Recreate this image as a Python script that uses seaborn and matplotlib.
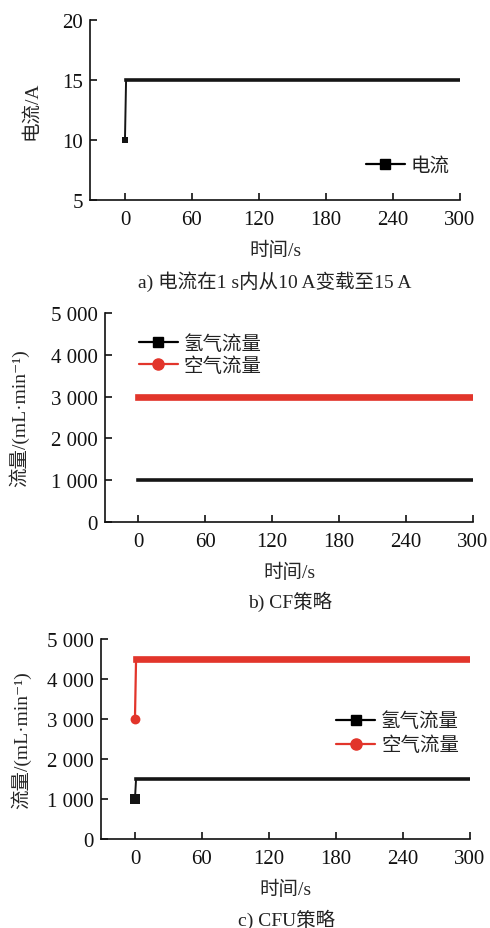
import numpy as np
import pandas as pd
import matplotlib
matplotlib.use("Agg")
import matplotlib.pyplot as plt
from matplotlib.lines import Line2D
import seaborn as sns

# ---- data -------------------------------------------------------------
# (a) load current step: 10 A -> 15 A within 1 s
time_a = [0, 1, 300]
current_a = [10, 15, 15]

# (b) CF strategy: constant flows
time_b = [0, 300]
h2_cf = [1000, 1000]
air_cf = [3000, 3000]

# (c) CFU strategy: flows stepped up together with the load
time_c = [0, 1, 300]
h2_cfu = [1000, 1500, 1500]
air_cfu = [3000, 4500, 4500]

x_ticks = [0, 60, 120, 180, 240, 300]
ticks_a = [5, 10, 15, 20]
ticks_flow = [0, 1000, 2000, 3000, 4000, 5000]
flow_labels = ["0", "1 000", "2 000", "3 000", "4 000", "5 000"]

captions = ["a) 电流在1 s内从10 A变载至15 A", "b) CF策略", "c) CFU策略"]
xlabel = "时间/s"
ylabel_a = "电流/A"
ylabel_flow = "流量/(mL·min⁻¹)"
legend_a = ["电流"]
legend_flow = ["氢气流量", "空气流量"]

BLACK = "#151515"
RED = "#e2352b"

# ---- style ------------------------------------------------------------
sns.set_style("ticks")
plt.rcParams["font.family"] = ["Liberation Serif", "Noto Sans CJK SC", "DejaVu Sans"]
plt.rcParams["font.size"] = 14
plt.rcParams["axes.linewidth"] = 1.2
plt.rcParams["axes.edgecolor"] = "#111111"
plt.rcParams["text.color"] = "#222222"
plt.rcParams["xtick.color"] = "#111111"
plt.rcParams["ytick.color"] = "#111111"

W, H = 490, 929
fig = plt.figure(figsize=(W / 100, H / 100), dpi=100)


def axes_px(left, right, top, bottom):
    return fig.add_axes([left / W, 1 - bottom / H, (right - left) / W, (bottom - top) / H])


def style_axes(ax, xlim, ylim, yticks, ylabels=None):
    ax.set_xlim(*xlim)
    ax.set_ylim(*ylim)
    ax.set_xticks(x_ticks)
    ax.set_xticklabels([str(v) for v in x_ticks])
    ax.set_yticks(yticks)
    if ylabels is not None:
        ax.set_yticklabels(ylabels)
    ax.tick_params(direction="in", length=5, width=1.2, labelsize=15)
    ax.tick_params(axis="x", pad=7)
    ax.tick_params(axis="y", pad=5)
    sns.despine(ax=ax)
    ax.set_xlabel(xlabel, fontsize=14, labelpad=9)


def step_series(ax, t, v, color, thin, thick, marker, ms):
    df = pd.DataFrame({"t": t, "v": v})
    # full trace (including the fast transition) as a thin line
    sns.lineplot(data=df, x="t", y="v", ax=ax, color=color, linewidth=thin,
                 estimator=None, sort=False, legend=False)
    # the held level drawn heavier
    held = df.iloc[1:]
    sns.lineplot(data=held, x="t", y="v", ax=ax, color=color, linewidth=thick,
                 estimator=None, sort=False, legend=False,
                 solid_capstyle="projecting")
    # starting point marker
    sns.scatterplot(data=df.iloc[[0]], x="t", y="v", ax=ax, color=color,
                    marker=marker, s=ms, edgecolor=color, linewidth=0,
                    legend=False, zorder=5)


def handles(colors, markers):
    return [Line2D([], [], color=c, lw=1.6, marker=m, markersize=7 if m == "s" else 8)
            for c, m in zip(colors, markers)]


# ---- (a) --------------------------------------------------------------
ax1 = axes_px(90, 460, 21, 201)
step_series(ax1, time_a, current_a, BLACK, 1.4, 2.6, "s", 20)
style_axes(ax1, (-31.3, 300), (5, 20), ticks_a)
ax1.set_ylabel(ylabel_a, fontsize=14)
ax1.yaxis.set_label_coords(-0.135, 0.5)
ax1.legend(handles(["#000000"], ["s"]), legend_a, loc="center left",
           bbox_to_anchor=(0.724, 0.19), frameon=False, fontsize=14,
           handlelength=2.0, handletextpad=0.3, borderaxespad=0)

# ---- (b) --------------------------------------------------------------
ax2 = axes_px(105, 473, 314, 523)
sns.lineplot(x=time_b, y=h2_cf, ax=ax2, color=BLACK, linewidth=2.6,
             solid_capstyle="projecting")
sns.lineplot(x=time_b, y=air_cf, ax=ax2, color=RED, linewidth=4.8,
             solid_capstyle="projecting")
style_axes(ax2, (-29.6, 300), (0, 5000), ticks_flow, flow_labels)
ax2.set_ylabel(ylabel_flow, fontsize=14)
ax2.yaxis.set_label_coords(-0.205, 0.5)
ax2.legend(handles(["#000000", RED], ["s", "o"]), legend_flow, loc="center left",
           bbox_to_anchor=(0.071, 0.8), frameon=False, fontsize=14,
           handlelength=2.0, handletextpad=0.3, labelspacing=0.18, borderaxespad=0)

# ---- (c) --------------------------------------------------------------
ax3 = axes_px(101, 470, 640, 840)
step_series(ax3, time_c, air_cfu, RED, 1.6, 4.8, "o", 50)
step_series(ax3, time_c, h2_cfu, BLACK, 1.4, 2.6, "s", 45)
style_axes(ax3, (-30.4, 300), (0, 5000), ticks_flow, flow_labels)
ax3.set_ylabel(ylabel_flow, fontsize=14)
ax3.yaxis.set_label_coords(-0.19, 0.5)
ax3.legend(handles(["#000000", RED], ["s", "o"]), legend_flow, loc="center left",
           bbox_to_anchor=(0.617, 0.53), frameon=False, fontsize=14,
           handlelength=2.0, handletextpad=0.3, labelspacing=0.28, borderaxespad=0)

# ---- captions ---------------------------------------------------------
for (cx, cy), text in zip([(275, 282), (290, 602), (287, 920)], captions):
    fig.text(cx / W, 1 - cy / H, text, ha="center", va="center", fontsize=14)

fig.savefig("out.png", dpi=100, facecolor="white")
